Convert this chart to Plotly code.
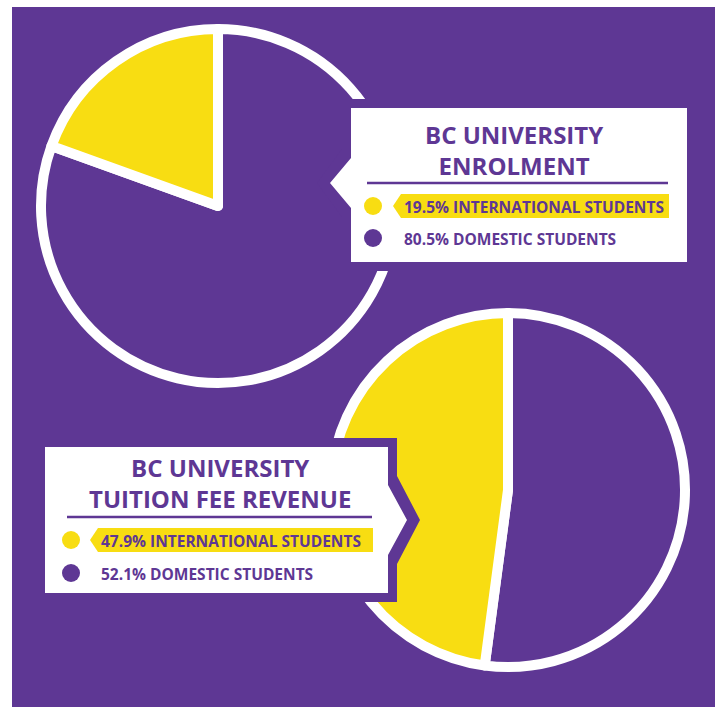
import plotly.graph_objects as go

W, H = 717, 707
PURPLE = "#5E3794"
YELLOW = "#F8DD12"
WHITE = "#FFFFFF"

# Data
categories = ["INTERNATIONAL STUDENTS", "DOMESTIC STUDENTS"]
enrolment_pct = [19.5, 80.5]
revenue_pct = [47.9, 52.1]
titles = ["BC UNIVERSITY<br>ENROLMENT", "BC UNIVERSITY<br>TUITION FEE REVENUE"]
colors = [YELLOW, PURPLE]

FONT = "Open Sans"


def dom(cx, cy, r):
    return dict(x=[(cx - r) / W, (cx + r) / W],
                y=[(H - cy - r) / H, (H - cy + r) / H])


fig = go.Figure()
for vals, (cx, cy) in [(enrolment_pct, (218, 206)), (revenue_pct, (508, 490))]:
    # drawn clockwise with domestic first so international ends at 12 o'clock
    fig.add_trace(go.Pie(
        labels=categories[::-1], values=vals[::-1], sort=False, direction="clockwise",
        rotation=0, textinfo="none", hoverinfo="label+percent",
        marker=dict(colors=colors[::-1], line=dict(color=WHITE, width=10)),
        domain=dom(cx, cy, 177), showlegend=False,
    ))

shapes = []
annotations = []

# background
shapes.append(dict(type="rect", xref="x", yref="y", x0=12, x1=715, y0=7, y1=707,
                   fillcolor=PURPLE, line=dict(width=0), layer="below"))


def box(x0, x1, y0, y1, side, tipx, tipy, half, frame=9, tip_out=13):
    fx0, fx1, fy0, fy1 = x0 - frame, x1 + frame, y0 - frame, y1 + frame
    if side == "left":
        p_outer = (f"M{fx0},{fy0} L{fx1},{fy0} L{fx1},{fy1} L{fx0},{fy1} "
                   f"L{fx0},{tipy+half+frame} L{tipx-tip_out},{tipy} L{fx0},{tipy-half-frame} Z")
        p_inner = (f"M{x0},{y0} L{x1},{y0} L{x1},{y1} L{x0},{y1} "
                   f"L{x0},{tipy+half} L{tipx},{tipy} L{x0},{tipy-half} Z")
    else:
        p_outer = (f"M{fx0},{fy0} L{fx1},{fy0} L{fx1},{tipy-half-frame} L{tipx+tip_out},{tipy} "
                   f"L{fx1},{tipy+half+frame} L{fx1},{fy1} L{fx0},{fy1} Z")
        p_inner = (f"M{x0},{y0} L{x1},{y0} L{x1},{tipy-half} L{tipx},{tipy} "
                   f"L{x1},{tipy+half} L{x1},{y1} L{x0},{y1} Z")
    shapes.append(dict(type="path", xref="x", yref="y", path=p_outer,
                       fillcolor=PURPLE, line=dict(width=0), layer="above"))
    shapes.append(dict(type="path", xref="x", yref="y", path=p_inner,
                       fillcolor=WHITE, line=dict(width=0), layer="above"))


def legend(title, tcx, ty, lx0, lx1, ly, cx, y1, y2, tagx, tagx1, vals):
    annotations.append(dict(xref="x", yref="y", x=tcx, y=ty, text=f"<b>{title}</b>",
                            showarrow=False, xanchor="center", yanchor="middle",
                            font=dict(family=FONT, size=24, color=PURPLE, weight=800),
                            align="center"))
    shapes.append(dict(type="line", xref="x", yref="y", x0=lx0, x1=lx1, y0=ly, y1=ly,
                       line=dict(color=PURPLE, width=2.5), layer="above"))
    for yy, col in [(y1, colors[0]), (y2, colors[1])]:
        shapes.append(dict(type="circle", xref="x", yref="y", x0=cx - 9, x1=cx + 9,
                           y0=yy - 9, y1=yy + 9, fillcolor=col, line=dict(width=0),
                           layer="above"))
    shapes.append(dict(type="path", xref="x", yref="y",
                       path=(f"M{tagx},{y1} L{tagx+8},{y1-12} L{tagx1},{y1-12} "
                             f"L{tagx1},{y1+12} L{tagx+8},{y1+12} Z"),
                       fillcolor=YELLOW, line=dict(width=0), layer="above"))
    for yy, v, cat in [(y1, vals[0], categories[0]), (y2, vals[1], categories[1])]:
        annotations.append(dict(xref="x", yref="y", x=tagx + 9, y=yy + 1,
                                text=f"<b>{v}% {cat}</b>", showarrow=False,
                                xanchor="left", yanchor="middle",
                                font=dict(family=FONT, size=15.5, color=PURPLE, weight=800)))


# top box
box(351, 687, 108, 262, "left", 330, 183, 25)
legend(titles[0], 514, 150, 367, 668, 183, 373, 206, 238, 393, 669, enrolment_pct)

# bottom box
box(45, 388, 447, 593, "right", 407, 520, 35)
legend(titles[1], 220, 483, 67, 372, 517, 71, 540, 573, 90, 373, revenue_pct)

fig.update_layout(
    width=W, height=H, margin=dict(l=0, r=0, t=0, b=0),
    paper_bgcolor=WHITE, plot_bgcolor="rgba(0,0,0,0)",
    xaxis=dict(range=[0, W], visible=False, fixedrange=True),
    yaxis=dict(range=[H, 0], visible=False, fixedrange=True),
    shapes=shapes, annotations=annotations, showlegend=False,
)

fig.write_html("out.html")
